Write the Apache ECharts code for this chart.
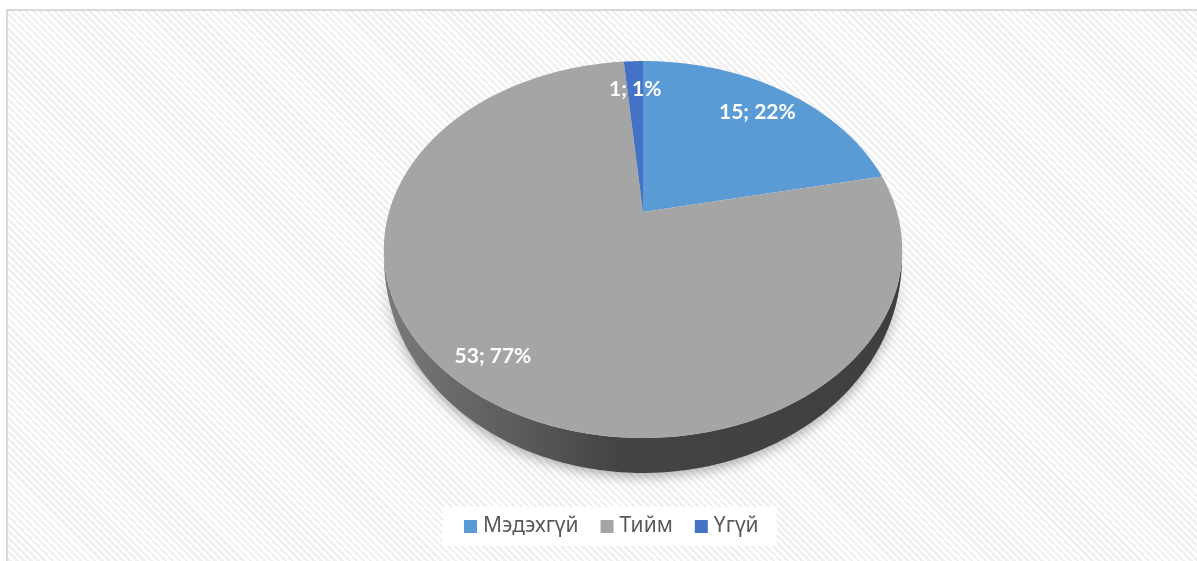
<!DOCTYPE html>
<html>
<head>
<meta charset="utf-8">
<script src="https://cdn.jsdelivr.net/npm/echarts@6/dist/echarts.min.js"></script>
<style>
    html, body { margin: 0; padding: 0; background: #ffffff; }
    #frame {
        position: absolute; left: 6px; top: 9px; width: 1200px; height: 560px;
        border-left: 2px solid #d9d9d9; border-top: 2px solid #d9d9d9;
        background: repeating-linear-gradient(45deg, #ffffff 0px, #ffffff 2.5px, #f0f0f0 2.5px, #f0f0f0 5px);
    }
    #chart { position: absolute; left: 0; top: 0; width: 1197px; height: 561px; }
</style>
</head>
<body>
<div id="frame"></div>
<div id="chart"></div>
<script>
var categories = ['Мэдэхгүй', 'Тийм', 'Үгүй'];
var counts = [15, 53, 1];
var percents = [22, 77, 1];
var colors = ['#5b9bd5', '#a5a5a5', '#4472c4'];

// tilted pie geometry (screen px)
var cx = 643, cy = 212, rx = 254, ry = 181, persp = 0.199, depth = 28;
var total = 0;
counts.forEach(function(v) { total += v; });

function project(theta, r, drop) {
    var u = r * Math.sin(theta), v = -r * Math.cos(theta);
    var w = 1 - persp * v;
    return [cx + rx * u / w, cy + (ry * v + (drop || 0)) / w];
}

// wall thickness fades toward the side silhouettes
function wallDrop(theta) {
    var v = -Math.cos(theta);
    var t = Math.max(0, (v - persp) / (1 - persp));
    return depth * Math.pow(t, 0.55);
}

function shade(hex, k) {
    var m = echarts.color.parse(hex);
    return 'rgb(' + Math.round(m[0] * k) + ',' + Math.round(m[1] * k) + ',' + Math.round(m[2] * k) + ')';
}

function arc(a0, a1, bottom) {
    var pts = [];
    var n = Math.max(2, Math.ceil(Math.abs(a1 - a0) / (Math.PI / 180)));
    for (var i = 0; i <= n; i++) {
        var a = a0 + (a1 - a0) * i / n;
        pts.push(project(a, 1, bottom ? wallDrop(a) : 0));
    }
    return pts;
}

function renderSlice(params, api) {
    var idx = params.seriesIndex;
    var value = api.value(0);
    var before = 0;
    for (var i = 0; i < idx; i++) before += counts[i];
    var a0 = before / total * Math.PI * 2;
    var a1 = (before + value) / total * Math.PI * 2;
    var children = [];

    // visible outer wall (front half)
    var lo = Math.acos(-persp), hi = Math.PI * 2 - lo;
    var w0 = Math.max(a0, lo), w1 = Math.min(a1, hi);
    if (w1 > w0) {
        var pts = arc(w0, w1, false).concat(arc(w1, w0, true));
        children.push({
            type: 'polygon',
            z2: 1,
            shape: { points: pts },
            style: {
                fill: new echarts.graphic.LinearGradient(0, 0, 1, 0, [
                    { offset: 0, color: shade(colors[idx], 0.74) },
                    { offset: 0.45, color: shade(colors[idx], 0.41) },
                    { offset: 1, color: shade(colors[idx], 0.38) }
                ]),
                shadowBlur: 12,
                shadowOffsetY: 4,
                shadowColor: 'rgba(0,0,0,0.3)'
            }
        });
    }

    // top face
    var top = [project(0, 0, 0)].concat(arc(a0, a1, false));
    children.push({
        type: 'polygon',
        z2: 2,
        shape: { points: top },
        style: { fill: colors[idx] }
    });

    // data label
    var frac = value / total;
    var mid = (a0 + a1) / 2;
    var lp = project(mid, 0.78 + 0.1 * frac, 0);
    children.push({
        type: 'text',
        z2: 3,
        style: {
            x: lp[0], y: lp[1],
            text: value + '; ' + percents[idx] + '%',
            fill: '#ffffff',
            font: 'bold 21px Lato, "Open Sans", sans-serif',
            align: 'center',
            verticalAlign: 'middle'
        }
    });
    return { type: 'group', children: children };
}

var chart = echarts.init(document.getElementById('chart'));

var series = categories.map(function(name, i) {
    return {
        name: name,
        type: 'custom',
        coordinateSystem: 'none',
        itemStyle: { color: colors[i] },
        renderItem: renderSlice,
        data: [[counts[i]]],
        silent: true
    };
});

chart.setOption({
    backgroundColor: 'transparent',
    animation: false,
    legend: {
        left: 443,
        top: 507,
        padding: [9, 18, 9, 21],
        backgroundColor: '#ffffff',
        itemWidth: 13,
        itemHeight: 13,
        itemGap: 22,
        icon: 'rect',
        data: categories,
        textStyle: {
            color: '#595959',
            fontSize: 21,
            fontFamily: '"Noto Sans", sans-serif',
            padding: [0, 0, 0, 1]
        }
    },
    series: series
});
</script>
</body>
</html>
